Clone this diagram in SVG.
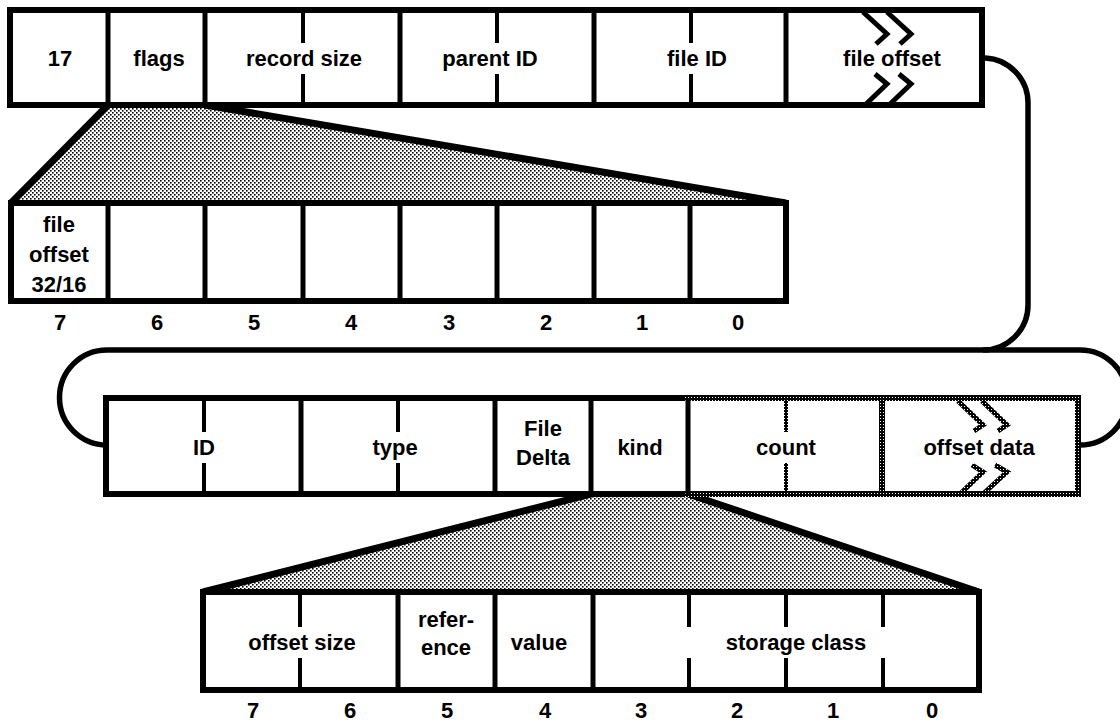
<svg xmlns="http://www.w3.org/2000/svg" width="1120" height="724" viewBox="0 0 1120 724">
<style>
  text { font-family: "Liberation Sans", Arial, Helvetica, sans-serif; font-size: 22px; font-weight: bold; fill: #000; text-anchor: middle; }
  .box { fill: #fff; stroke: #000; stroke-width: 6; }
  .div { stroke: #000; stroke-width: 5; fill: none; }
  .tick { stroke: #000; stroke-width: 4; fill: none; }
  .dot { stroke: url(#stip); stroke-width: 6; fill: none; }
  .dtick { stroke: url(#stip); stroke-width: 4; fill: none; }
  .chev { stroke: #000; stroke-width: 5; fill: none; stroke-linejoin: miter; }
  .dchev { stroke: url(#stip); stroke-width: 5; fill: none; stroke-linejoin: miter; }
  .fan { fill: url(#shade); stroke: none; }
  .edge { stroke: #000; stroke-width: 7; fill: none; stroke-linecap: butt; }
  .conn { stroke: #000; stroke-width: 5.5; fill: none; }
</style>
<defs>
  <pattern id="shade" patternUnits="userSpaceOnUse" width="4" height="4">
    <rect width="4" height="4" fill="#fff"/>
    <rect x="0" y="0" width="1.6" height="1.6" fill="#000"/>
    <rect x="2" y="2" width="1.6" height="1.6" fill="#000"/>
  </pattern>
  <pattern id="stip" patternUnits="userSpaceOnUse" width="3" height="3">
    <rect width="3" height="3" fill="#000"/>
    <rect x="1" y="1" width="1" height="1" fill="#fff"/>
  </pattern>
</defs>

<g id="expansions">
  <polygon class="fan" points="108,105 205,105 786,203 11,203"/>
  <line class="edge" x1="108" y1="105" x2="11" y2="203"/>
  <line class="edge" x1="205" y1="105" x2="786" y2="203"/>
  <polygon class="fan" points="591,494 688,494 979,592 203,592"/>
  <line class="edge" x1="591" y1="494" x2="203" y2="592"/>
  <line class="edge" x1="688" y1="494" x2="979" y2="592"/>
</g>

<g id="connectors">
  <path class="conn" d="M982,58 H985 A45,45 0 0 1 1028,103 V305 A45,45 0 0 1 983,350"/>
  <path class="conn" d="M1078,445 H1080 A47.5,47.5 0 0 0 1080,350 H107 A47.5,47.5 0 0 0 107,445 H106"/>
</g>

<g id="record-header">
  <rect class="box" x="10" y="10" width="972" height="95"/>
  <g id="f-17">
    <text x="60" y="66">17</text>
  </g>
  <g id="f-flags">
    <line class="div" x1="108" y1="10" x2="108" y2="105"/>
    <text x="159" y="66">flags</text>
  </g>
  <g id="f-record-size">
    <line class="div" x1="205" y1="10" x2="205" y2="105"/>
    <line class="tick" x1="303" y1="10" x2="303" y2="43"/>
    <line class="tick" x1="303" y1="74" x2="303" y2="105"/>
    <text x="304" y="66">record size</text>
  </g>
  <g id="f-parent-id">
    <line class="div" x1="400" y1="10" x2="400" y2="105"/>
    <line class="tick" x1="497" y1="10" x2="497" y2="43"/>
    <line class="tick" x1="497" y1="74" x2="497" y2="105"/>
    <text x="490" y="66">parent ID</text>
  </g>
  <g id="f-file-id">
    <line class="div" x1="594" y1="10" x2="594" y2="105"/>
    <line class="tick" x1="691" y1="10" x2="691" y2="43"/>
    <line class="tick" x1="691" y1="74" x2="691" y2="105"/>
    <text x="697" y="66">file ID</text>
  </g>
  <g id="f-file-offset">
    <line class="div" x1="786" y1="10" x2="786" y2="105"/>
    <polyline class="chev" points="863,12 887,34 876,44"/>
    <polyline class="chev" points="887,12 911,34 900,44"/>
    <polyline class="chev" points="875,74 887,84 864,106"/>
    <polyline class="chev" points="899,74 911,84 888,106"/>
    <text x="892" y="66">file offset</text>
  </g>
</g>

<g id="flags-bits">
  <rect class="box" x="11" y="203" width="775" height="98"/>
  <line class="div" x1="108" y1="203" x2="108" y2="301"/>
  <line class="div" x1="205" y1="203" x2="205" y2="301"/>
  <line class="div" x1="303" y1="203" x2="303" y2="301"/>
  <line class="div" x1="400" y1="203" x2="400" y2="301"/>
  <line class="div" x1="497" y1="203" x2="497" y2="301"/>
  <line class="div" x1="594" y1="203" x2="594" y2="301"/>
  <line class="div" x1="690" y1="203" x2="690" y2="301"/>
  <g id="bit-file-offset">
    <text x="59" y="232">file</text>
    <text x="59" y="262">offset</text>
    <text x="59" y="292">32/16</text>
  </g>
  <g id="flags-bit-numbers">
    <text x="60" y="330">7</text>
    <text x="157" y="330">6</text>
    <text x="254" y="330">5</text>
    <text x="351" y="330">4</text>
    <text x="449" y="330">3</text>
    <text x="546" y="330">2</text>
    <text x="642" y="330">1</text>
    <text x="738" y="330">0</text>
  </g>
</g>

<g id="record-body">
  <rect x="106" y="398" width="972" height="96" fill="#fff"/>
  <path class="box" d="M688,398 H106 V494 H688" style="fill:none"/>
  <path class="dot" d="M685,398 H1078 V494 H685"/>
  <g id="f-id">
    <line class="tick" x1="204" y1="398" x2="204" y2="432"/>
    <line class="tick" x1="204" y1="463" x2="204" y2="494"/>
    <text x="204" y="455">ID</text>
  </g>
  <g id="f-type">
    <line class="div" x1="301" y1="398" x2="301" y2="494"/>
    <line class="tick" x1="398" y1="398" x2="398" y2="432"/>
    <line class="tick" x1="398" y1="463" x2="398" y2="494"/>
    <text x="395" y="455">type</text>
  </g>
  <g id="f-file-delta">
    <line class="div" x1="495" y1="398" x2="495" y2="494"/>
    <text x="543" y="436">File</text>
    <text x="543" y="465">Delta</text>
  </g>
  <g id="f-kind">
    <line class="div" x1="591" y1="398" x2="591" y2="494"/>
    <text x="640" y="455">kind</text>
  </g>
  <g id="f-count">
    <line class="div" x1="688" y1="398" x2="688" y2="494"/>
    <line class="dtick" x1="786" y1="398" x2="786" y2="432"/>
    <line class="dtick" x1="786" y1="463" x2="786" y2="494"/>
    <text x="786" y="455">count</text>
  </g>
  <g id="f-offset-data">
    <line class="dot" x1="882" y1="398" x2="882" y2="494"/>
    <polyline class="dchev" points="958,401 983,425 974,431"/>
    <polyline class="dchev" points="982,401 1007,425 998,431"/>
    <polyline class="dchev" points="972,465 983,472 960,494"/>
    <polyline class="dchev" points="995,465 1007,472 983,494"/>
    <text x="979" y="455">offset data</text>
  </g>
</g>

<g id="kind-bits">
  <rect class="box" x="203" y="592" width="776" height="98"/>
  <g id="k-offset-size">
    <line class="tick" x1="300" y1="592" x2="300" y2="627"/>
    <line class="tick" x1="300" y1="658" x2="300" y2="690"/>
    <text x="302" y="650">offset size</text>
  </g>
  <g id="k-reference">
    <line class="div" x1="398" y1="592" x2="398" y2="690"/>
    <text x="446" y="627">refer-</text>
    <text x="446" y="655">ence</text>
  </g>
  <g id="k-value">
    <line class="div" x1="495" y1="592" x2="495" y2="690"/>
    <text x="539" y="650">value</text>
  </g>
  <g id="k-storage-class">
    <line class="div" x1="593" y1="592" x2="593" y2="690"/>
    <line class="tick" x1="689" y1="592" x2="689" y2="627"/>
    <line class="tick" x1="689" y1="658" x2="689" y2="690"/>
    <line class="tick" x1="786" y1="592" x2="786" y2="627"/>
    <line class="tick" x1="786" y1="658" x2="786" y2="690"/>
    <line class="tick" x1="883" y1="592" x2="883" y2="627"/>
    <line class="tick" x1="883" y1="658" x2="883" y2="690"/>
    <text x="796" y="650">storage class</text>
  </g>
  <g id="kind-bit-numbers">
    <text x="253" y="718">7</text>
    <text x="350" y="718">6</text>
    <text x="447" y="718">5</text>
    <text x="545" y="718">4</text>
    <text x="641" y="718">3</text>
    <text x="737" y="718">2</text>
    <text x="833" y="718">1</text>
    <text x="932" y="718">0</text>
  </g>
</g>
</svg>
